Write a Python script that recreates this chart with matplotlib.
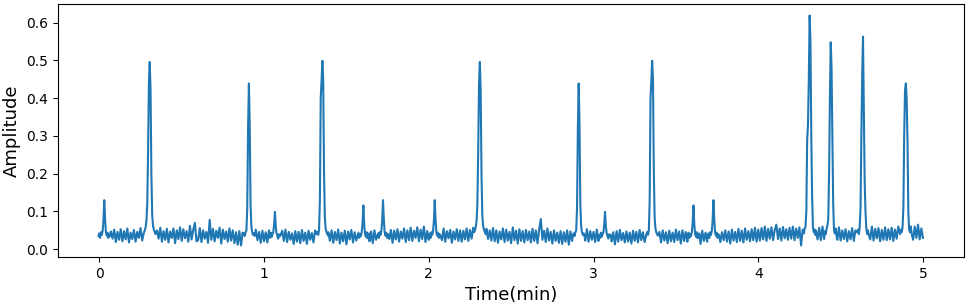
import numpy as np
import matplotlib
matplotlib.use("Agg")
import matplotlib.pyplot as plt

# baseline read every 0.01 min, in milli-units (0.00 ... 5.00 min)
base_step = 0.01
base_milli = [
    22, 40, 18, 45, 24, 50, 20, 47, 28, 52, 19, 46, 25, 53, 21, 48, 26, 55, 18, 44,
    27, 51, 20, 46, 30, 56, 23, 49, 29, 60, 24, 58, 31, 52, 22, 50, 28, 57, 20, 48,
    25, 54, 18, 47, 30, 55, 16, 50, 27, 58, 22, 53, 29, 48, 20, 62, 26, 51, 70, 21,
    24, 56, 19, 50, 28, 46, 17, 78, 25, 54, 21, 49, 30, 57, 15, 52, 27, 47, 20, 55,
    23, 50, 16, 45, 12, 48, 10, 44, 22, 51, 18, 47, 25, 43, 20, 52, 24, 46, 17, 49,
    21, 45, 18, 50, 24, 55, 15, 47, 26, 44, 13, 49, 22, 52, 19, 46, 25, 42, 14, 48,
    20, 46, 16, 51, 22, 44, 14, 49, 25, 43, 18, 50, 23, 47, 20, 52, 26, 48, 19, 45,
    22, 50, 17, 46, 24, 52, 15, 44, 21, 49, 13, 47, 26, 51, 18, 45, 23, 48, 16, 50,
    24, 46, 19, 52, 21, 47, 16, 50, 25, 44, 18, 53, 22, 48, 20, 45, 27, 51, 17, 49,
    26, 53, 20, 47, 28, 55, 19, 50, 24, 57, 22, 49, 30, 58, 21, 52, 27, 60, 19, 48,
    25, 54, 21, 49, 27, 46, 18, 52, 24, 55, 20, 48, 29, 51, 17, 47, 26, 53, 22, 50,
    20, 49, 26, 55, 22, 51, 28, 57, 24, 53, 30, 60, 25, 58, 21, 54, 27, 50, 23, 56,
    21, 50, 17, 47, 26, 55, 19, 52, 23, 46, 16, 58, 24, 49, 15, 53, 22, 48, 18, 51,
    24, 47, 18, 54, 22, 50, 16, 52, 80, 25, 49, 19, 55, 23, 46, 15, 50, 22, 44, 17,
    48, 14, 45, 20, 50, 12, 47, 22, 44, 18, 51, 24, 49, 17, 46, 23, 53, 20, 48, 25,
    46, 19, 52, 22, 47, 16, 50, 23, 44, 15, 49, 21, 45, 13, 48, 20, 51, 24, 43, 18,
    47, 20, 44, 15, 49, 22, 46, 18, 51, 24, 45, 19, 50, 23, 47, 17, 52, 25, 48, 21,
    46, 18, 50, 23, 45, 16, 49, 21, 44, 19, 52, 24, 47, 15, 50, 22, 46, 20, 48, 17,
    45, 21, 50, 18, 47, 14, 49, 22, 44, 20, 52, 17, 46, 23, 48, 16, 51, 19, 45, 24,
    50, 20, 47, 15, 52, 23, 46, 19, 54, 22, 49, 18, 55, 25, 48, 21, 53, 24, 57, 20,
    52, 23, 56, 26, 60, 22, 54, 28, 58, 24, 51, 65, 27, 55, 23, 59, 29, 53, 25, 57,
    28, 60, 24, 55, 30, 58, 10, 52, 27, 62, 25, 56, 29, 54, 23, 50, 26, 57, 24, 60,
    27, 52, 22, 49, 28, 55, 20, 51, 25, 58, 23, 50, 27, 53, 21, 48, 26, 56, 22, 50,
    28, 55, 24, 50, 27, 57, 22, 52, 26, 60, 23, 54, 29, 56, 21, 51, 25, 58, 24, 53,
    26, 57, 22, 52, 28, 60, 24, 55, 27, 58, 23, 52, 29, 62, 25, 60, 30, 65, 26, 55,
    30,
]

# peaks: centre time (min) and profile read at offsets -0.035 ... +0.035 min
peak_offset_step = 0.005
peak_centre = [0.030, 0.306, 0.908, 1.066, 1.354, 1.603, 1.722,
               2.036, 2.310, 2.910, 3.070, 3.356, 3.607, 3.728,
               4.312, 4.440, 4.636, 4.896]
peak_milli = [
    [35, 42, 30, 45, 38, 48, 75, 130, 80, 45, 36, 44, 30, 40, 35],
    [45, 50, 58, 75, 120, 260, 440, 496, 420, 200, 90, 62, 52, 46, 40],
    [38, 42, 35, 45, 50, 110, 320, 439, 330, 120, 60, 45, 38, 42, 35],
    [38, 30, 44, 33, 40, 45, 65, 99, 60, 42, 35, 28, 40, 34, 38],
    [40, 46, 38, 52, 130, 400, 445, 499, 450, 210, 85, 55, 45, 40, 36],
    [36, 44, 30, 40, 35, 46, 70, 116, 65, 40, 33, 45, 29, 38, 42],
    [35, 42, 30, 45, 38, 48, 75, 130, 80, 45, 36, 44, 30, 40, 35],
    [35, 42, 30, 45, 38, 48, 75, 130, 80, 45, 36, 44, 30, 40, 35],
    [45, 50, 58, 75, 120, 260, 440, 496, 420, 200, 90, 62, 52, 46, 40],
    [38, 42, 35, 45, 50, 110, 320, 439, 330, 120, 60, 45, 38, 42, 35],
    [38, 30, 44, 33, 40, 45, 65, 99, 60, 42, 35, 28, 40, 34, 38],
    [40, 46, 38, 52, 130, 400, 445, 499, 450, 210, 85, 55, 45, 40, 36],
    [36, 44, 30, 40, 35, 46, 70, 116, 65, 40, 33, 45, 29, 38, 42],
    [35, 42, 30, 45, 38, 48, 75, 130, 80, 45, 36, 44, 30, 40, 35],
    [42, 55, 60, 100, 290, 330, 450, 619, 550, 300, 140, 60, 45, 52, 38],
    [48, 40, 55, 62, 80, 200, 400, 548, 480, 290, 120, 50, 42, 55, 36],
    [45, 52, 40, 60, 110, 300, 460, 563, 370, 180, 100, 55, 40, 50, 38],
    [40, 52, 45, 58, 110, 300, 420, 439, 400, 290, 100, 52, 45, 60, 42],
]

# assemble the trace
t_base = np.arange(len(base_milli)) * base_step
a_base = np.array(base_milli) / 1000.0
keep = np.ones(len(t_base), dtype=bool)
for c in peak_centre:
    keep &= np.abs(t_base - c) > 0.036

t_list = [t_base[keep]]
a_list = [a_base[keep]]
for c, prof in zip(peak_centre, peak_milli):
    n = len(prof)
    offs = (np.arange(n) - n // 2) * peak_offset_step
    t_list.append(c + offs)
    a_list.append(np.array(prof) / 1000.0)

t = np.concatenate(t_list)
a = np.concatenate(a_list)
order = np.argsort(t)
t, a = t[order], a[order]

fig = plt.figure(figsize=(9.69, 3.07), dpi=100)
ax = fig.add_axes([0.060, 0.163, 0.935, 0.824])
ax.plot(t, a, color="#1f77b4", linewidth=1.5)
ax.set_xlabel("Time(min)", fontsize=13)
ax.set_ylabel("Amplitude", fontsize=13)
ax.set_xlim(-0.25, 5.25)

fig.savefig("out.png", dpi=100)
